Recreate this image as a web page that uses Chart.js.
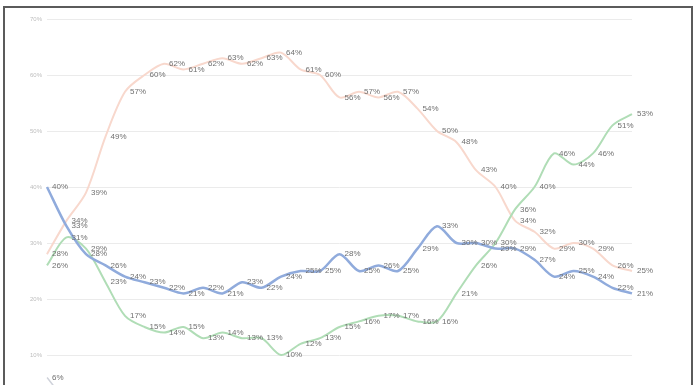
<!DOCTYPE html>
<html>
<head>
<meta charset="utf-8">
<title>Line chart</title>
<script src="https://cdn.jsdelivr.net/npm/chart.js@4.4.1/dist/chart.umd.min.js"></script>
<style>
    html, body { margin: 0; padding: 0; background: #fff; overflow: hidden; width: 696px; height: 385px; }
    #frame { position: absolute; left: 3px; top: 6px; width: 690px; height: 470px; border: 2px solid #5b5b5b; box-sizing: border-box; }
    #chartBox { position: absolute; left: 0; top: 0; width: 696px; height: 440px; }
</style>
</head>
<body>
<div id="frame"></div>
<div id="chartBox"><canvas id="lineChart" width="696" height="440"></canvas></div>
<script>
// Dữ liệu, đơn vị %
const categories = ['1', '2', '3', '4', '5', '6', '7', '8', '9', '10', '11', '12', '13', '14', '15', '16',
    '17', '18', '19', '20', '21', '22', '23', '24', '25', '26', '27', '28', '29', '30', '31'];

const orangeValues = [28, 34, 39, 49, 57, 60, 62, 61, 62, 63, 62, 63, 64, 61, 60, 56,
    57, 56, 57, 54, 50, 48, 43, 40, 34, 32, 29, 30, 29, 26, 25];
const blueValues = [40, 33, 28, 26, 24, 23, 22, 21, 22, 21, 23, 22, 24, 25, 25, 28,
    25, 26, 25, 29, 33, 30, 30, 29, 29, 27, 24, 25, 24, 22, 21];
const greenValues = [26, 31, 29, 23, 17, 15, 14, 15, 13, 14, 13, 13, 10, 12, 13, 15,
    16, 17, 17, 16, 16, 21, 26, 30, 36, 40, 46, 44, 46, 51, 53];
// Chuỗi thứ tư gần như nằm ngoài khung (chỉ thấy 6% ở đầu)
const grayValues = [6, 2, 2, 1, 2, 2, 2, 2, 3, 2, 2, 2, 3, 2, 2, 2,
    2, 1, 2, 2, 2, 2, 3, 2, 2, 2, 2, 2, 3, 2, 2];

const yTicks = [0, 10, 20, 30, 40, 50, 60, 70];

// Plugin vẽ nhãn giá trị bên phải mỗi điểm
const valueLabels = {
    id: 'valueLabels',
    afterDatasetsDraw(chart) {
        const ctx = chart.ctx;
        ctx.save();
        ctx.font = '8px "Liberation Sans", Arial, sans-serif';
        ctx.fillStyle = '#707070';
        ctx.textAlign = 'left';
        ctx.textBaseline = 'middle';
        chart.data.datasets.forEach((ds, i) => {
            const meta = chart.getDatasetMeta(i);
            meta.data.forEach((pt, j) => {
                ctx.fillText(ds.data[j] + '%', pt.x + 5, pt.y);
            });
        });
        ctx.restore();
    }
};

function makeLine(data, color, width) {
    return {
        data: data,
        borderColor: color,
        borderWidth: width,
        pointRadius: 0,
        tension: 0.3,
        fill: false
    };
}

const ctx = document.getElementById('lineChart').getContext('2d');
new Chart(ctx, {
    type: 'line',
    data: {
        labels: categories,
        datasets: [
            makeLine(blueValues, '#90abdc', 2.5),
            makeLine(greenValues, '#b0ddb6', 2),
            makeLine(orangeValues, '#f8d8cd', 2),
            makeLine(grayValues, '#cfd2da', 1.5)
        ]
    },
    options: {
        responsive: false,
        animation: false,
        layout: { padding: { top: 19, right: 64, bottom: 29, left: 0 } },
        plugins: {
            legend: { display: false },
            tooltip: { enabled: false }
        },
        scales: {
            x: { display: false, offset: false },
            y: {
                min: 0,
                max: 70,
                afterBuildTicks: axis => { axis.ticks = yTicks.map(v => ({ value: v })); },
                afterFit: axis => { axis.width = 47; },
                ticks: {
                    callback: v => v + '%',
                    font: { size: 6, family: '"Liberation Sans", Arial, sans-serif' },
                    color: '#bdbdbd',
                    padding: 5
                },
                grid: { color: '#ebebeb', drawTicks: false },
                border: { display: false }
            }
        }
    },
    plugins: [valueLabels]
});
</script>
</body>
</html>
